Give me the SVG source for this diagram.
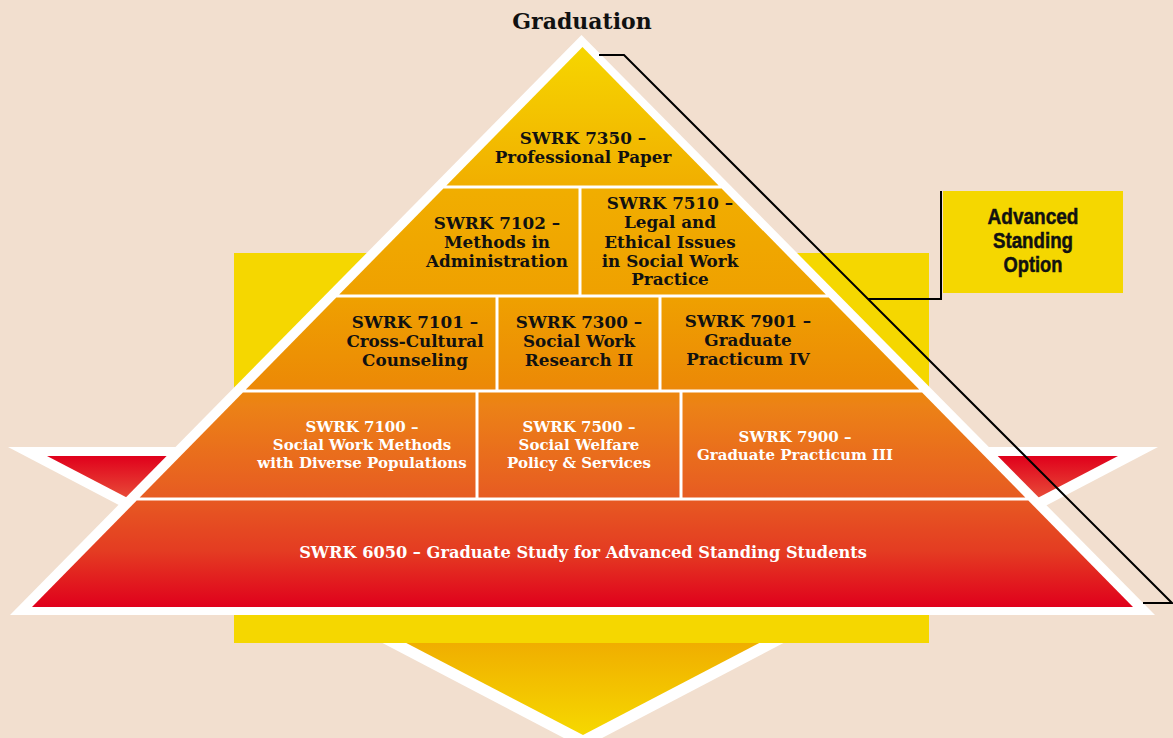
<svg xmlns="http://www.w3.org/2000/svg" width="1173" height="738" viewBox="0 0 1173 738">
  <defs>
    <linearGradient id="pyrGrad" gradientUnits="userSpaceOnUse" x1="0" y1="47" x2="0" y2="607">
      <stop offset="0" stop-color="#F6D600"/>
      <stop offset="0.25" stop-color="#F1AE00"/>
      <stop offset="0.45" stop-color="#EFA000"/>
      <stop offset="0.6" stop-color="#EC8A06"/>
      <stop offset="0.64" stop-color="#EC8216"/>
      <stop offset="0.8" stop-color="#E75C22"/>
      <stop offset="0.9" stop-color="#E43C22"/>
      <stop offset="1" stop-color="#E0001C"/>
    </linearGradient>
    <linearGradient id="invGrad" gradientUnits="userSpaceOnUse" x1="0" y1="456" x2="0" y2="735">
      <stop offset="0" stop-color="#E0001B"/>
      <stop offset="0.16" stop-color="#E8503A"/>
      <stop offset="0.4" stop-color="#EE8A10"/>
      <stop offset="0.67" stop-color="#F0AE00"/>
      <stop offset="1" stop-color="#F6D800"/>
    </linearGradient>
    <style>
      .blk { fill: url(#pyrGrad); }
      .dark { font-family: "DejaVu Serif", "Liberation Serif", serif; font-weight: bold; font-size: 16.8px; fill: #111; text-anchor: middle; }
      .light { font-family: "DejaVu Serif", "Liberation Serif", serif; font-weight: bold; font-size: 15px; fill: #fff; text-anchor: middle; }
      .adv { font-family: "Liberation Sans", Arial, sans-serif; font-weight: bold; font-size: 22px; fill: #111; stroke: #111; stroke-width: 0.5; text-anchor: middle; }
      .line { fill: none; stroke: #000; stroke-width: 2; }
    </style>
  </defs>

  <rect x="0" y="0" width="1173" height="738" fill="#F2DFCF"/>

  <!-- inverted triangle (wedges + bottom point) -->
  <g id="inverted-triangle">
    <polygon points="8,447 1158,447 583,748" fill="#fff"/>
    <polygon points="47,456 1118,456 583,735" fill="url(#invGrad)"/>
  </g>

  <!-- yellow rectangle behind pyramid -->
  <rect id="yellow-back" x="234" y="253" width="695" height="390" fill="#F5D700"/>

  <!-- pyramid white outline -->
  <polygon id="pyramid-outline" points="581.5,35 10,615 1155,615" fill="#fff"/>

  <g id="swrk7350">
    <polygon class="blk" points="582.5,47 718.6,185.5 446.4,185.5"/>
    <text class="dark" x="583" y="144">SWRK 7350 –</text>
    <text class="dark" x="583" y="163">Professional Paper</text>
  </g>

  <g id="swrk7102">
    <polygon class="blk" points="443.4,188.5 578.5,188.5 578.5,294.5 339.2,294.5"/>
    <text class="dark" x="497" y="229">SWRK 7102 –</text>
    <text class="dark" x="497" y="248">Methods in</text>
    <text class="dark" x="497" y="267">Administration</text>
  </g>

  <g id="swrk7510">
    <polygon class="blk" points="581.5,188.5 721.6,188.5 825.8,294.5 581.5,294.5"/>
    <text class="dark" x="670" y="209">SWRK 7510 –</text>
    <text class="dark" x="670" y="228">Legal and</text>
    <text class="dark" x="670" y="248">Ethical Issues</text>
    <text class="dark" x="670" y="267">in Social Work</text>
    <text class="dark" x="670" y="285">Practice</text>
  </g>

  <g id="swrk7101">
    <polygon class="blk" points="336.3,297.5 495.5,297.5 495.5,389.5 245.8,389.5"/>
    <text class="dark" x="415" y="328">SWRK 7101 –</text>
    <text class="dark" x="415" y="347">Cross-Cultural</text>
    <text class="dark" x="415" y="366">Counseling</text>
  </g>

  <g id="swrk7300">
    <polygon class="blk" points="498.5,297.5 658.5,297.5 658.5,389.5 498.5,389.5"/>
    <text class="dark" x="579" y="328">SWRK 7300 –</text>
    <text class="dark" x="579" y="347">Social Work</text>
    <text class="dark" x="579" y="366">Research II</text>
  </g>

  <g id="swrk7901">
    <polygon class="blk" points="661.5,297.5 828.7,297.5 919.2,389.5 661.5,389.5"/>
    <text class="dark" x="748" y="327">SWRK 7901 –</text>
    <text class="dark" x="748" y="346">Graduate</text>
    <text class="dark" x="748" y="365">Practicum IV</text>
  </g>

  <g id="swrk7100">
    <polygon class="blk" points="242.9,392.5 475.5,392.5 475.5,497.5 139.7,497.5"/>
    <text class="light" x="362" y="432">SWRK 7100 –</text>
    <text class="light" x="362" y="450">Social Work Methods</text>
    <text class="light" x="362" y="468">with Diverse Populations</text>
  </g>

  <g id="swrk7500">
    <polygon class="blk" points="478.5,392.5 679.5,392.5 679.5,497.5 478.5,497.5"/>
    <text class="light" x="579" y="432">SWRK 7500 –</text>
    <text class="light" x="579" y="450">Social Welfare</text>
    <text class="light" x="579" y="468">Policy &amp; Services</text>
  </g>

  <g id="swrk7900">
    <polygon class="blk" points="682.5,392.5 922.1,392.5 1025.3,497.5 682.5,497.5"/>
    <text class="light" x="795" y="442">SWRK 7900 –</text>
    <text class="light" x="795" y="460">Graduate Practicum III</text>
  </g>

  <g id="swrk6050">
    <polygon class="blk" points="136.7,500.5 1028.3,500.5 1133,607 32,607"/>
    <text class="light" x="583" y="558" style="font-size:16.2px">SWRK 6050 – Graduate Study for Advanced Standing Students</text>
  </g>

  <g id="connectors">
    <polyline class="line" points="599,55 624,55 1172,603 1143,603"/>
    <polyline class="line" points="941,191 941,299 868,299"/>
  </g>

  <g id="advanced-standing">
    <rect x="943" y="191" width="180" height="102" fill="#F5D700"/>
    <text class="adv" x="1033" y="224" textLength="91" lengthAdjust="spacingAndGlyphs">Advanced</text>
    <text class="adv" x="1033" y="248" textLength="80" lengthAdjust="spacingAndGlyphs">Standing</text>
    <text class="adv" x="1033" y="272" textLength="59" lengthAdjust="spacingAndGlyphs">Option</text>
  </g>

  <g id="graduation">
    <text x="582" y="29" style="font-family:'DejaVu Serif','Liberation Serif',serif;font-weight:bold;font-size:22px;fill:#111;text-anchor:middle">Graduation</text>
  </g>
</svg>
